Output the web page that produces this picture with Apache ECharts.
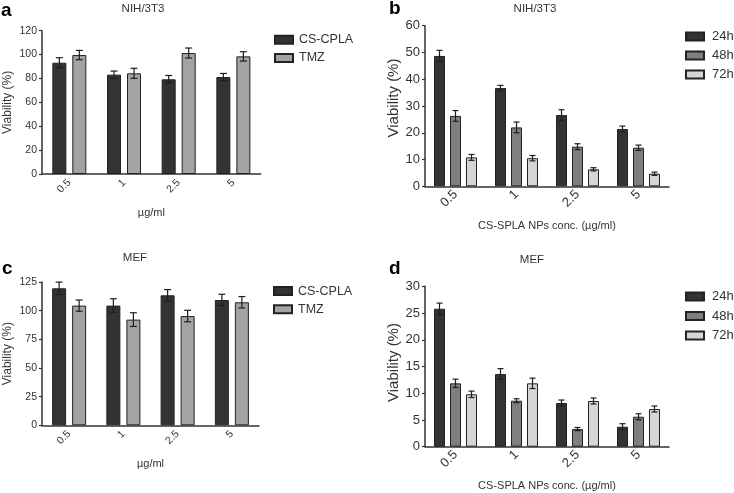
<!DOCTYPE html>
<html>
<head>
<meta charset="utf-8">
<script src="https://cdn.jsdelivr.net/npm/echarts@6/dist/echarts.min.js"></script>
<style>
html,body{margin:0;padding:0;background:#fff;}
#main{width:734px;height:493px;}
</style>
</head>
<body>
<div id="main"></div>
<script>
// ---- data ----
const categories = ['0.5', '1', '2.5', '5'];

const nihCS = [93.2, 83.2, 79.3, 81.2];
const nihCSErr = [4.2, 3.0, 3.2, 3.0];
const nihTMZ = [99.6, 84.3, 101.3, 98.5];
const nihTMZErr = [3.9, 4.2, 4.2, 3.9];

const mefCS = [119.5, 104.4, 113.4, 109.3];
const mefCSErr = [5.4, 6.0, 5.0, 5.0];
const mefTMZ = [104.4, 92.2, 95.3, 107.3];
const mefTMZErr = [4.9, 6.0, 5.0, 5.0];

const nih24 = [48.7, 36.7, 26.6, 21.4];
const nih24Err = [2.1, 1.0, 2.0, 1.1];
const nih48 = [26.3, 22.0, 14.8, 14.4];
const nih48Err = [2.0, 2.0, 1.1, 1.0];
const nih72 = [10.8, 10.5, 6.35, 4.7];
const nih72Err = [1.1, 1.0, 0.6, 0.6];

const mef24 = [25.8, 13.6, 8.17, 3.74];
const mef24Err = [1.06, 1.0, 0.56, 0.56];
const mef48 = [11.85, 8.6, 3.3, 5.6];
const mef48Err = [0.78, 0.37, 0.3, 0.56];
const mef72 = [9.8, 11.85, 8.55, 7.05];
const mef72Err = [0.6, 0.97, 0.56, 0.56];

const yTicksA = {min: 0, max: 120, interval: 20};
const yTicksB = {min: 0, max: 60, interval: 10};
const yTicksC = {min: 0, max: 125, interval: 25};
const yTicksD = {min: 0, max: 30, interval: 5};

// ---- styling ----
const FONT = "'Liberation Sans', Arial, sans-serif";
const TXT = '#333';
const colors = {
  'CS-CPLA': '#333333', 'TMZ': '#a3a3a3',
  '24h': '#333333', '48h': '#7f7f7f', '72h': '#d6d6d6'
};
const BORDER = '#222';

const chart = echarts.init(document.getElementById('main'));

const grids = [
  {left: 42, top: 30.7, width: 218.7, height: 143.3},
  {left: 425, top: 25.7, width: 244, height: 160.6},
  {left: 42, top: 282, width: 217, height: 143.3},
  {left: 425, top: 286.3, width: 244, height: 160.4}
].map(g => Object.assign({containLabel: false, outerBoundsMode: 'none'}, g));

function xAxis(idx, name, small) {
  return {
    type: 'category', gridIndex: idx, data: categories,
    boundaryGap: true,
    axisLine: {lineStyle: {color: '#333', width: 1.5}},
    axisTick: {alignWithLabel: true, length: 4, lineStyle: {color: '#333', width: 1.2}},
    axisLabel: {rotate: 45, color: TXT, fontFamily: FONT, fontSize: small ? 10.5 : 13, margin: small ? 7 : 6},
    name: name, nameLocation: 'middle', nameGap: small ? 33 : 34,
    nameTextStyle: {color: TXT, fontFamily: FONT, fontSize: 11}
  };
}
function yAxis(idx, ticks, small, padBottom) {
  return Object.assign({
    type: 'value', gridIndex: idx,
    splitLine: {show: false},
    axisLine: {show: true, lineStyle: {color: '#333', width: 1.5}},
    axisTick: {show: true, length: 3, lineStyle: {color: '#333', width: 1.2}},
    axisLabel: {color: TXT, fontFamily: FONT, fontSize: small ? 10.5 : 13, margin: 5},
    name: 'Viability (%)', nameLocation: 'middle', nameGap: small ? 28 : 22,
    nameTextStyle: {color: TXT, fontFamily: FONT, fontSize: small ? 12 : 15, padding: [0, 0, 0, padBottom || 0]}
  }, ticks);
}

function barSeries(name, data, idx, bw, gap) {
  return {
    type: 'bar', name: name, xAxisIndex: idx, yAxisIndex: idx, data: data,
    barWidth: bw, barGap: gap,
    itemStyle: {color: colors[name], borderColor: BORDER, borderWidth: 1},
    silent: true, z: 2
  };
}
function errSeries(values, errs, idx, bw, gapPx, n, k, cap) {
  const total = n * bw + (n - 1) * gapPx;
  const off = -total / 2 + k * (bw + gapPx) + bw / 2;
  return {
    type: 'custom', xAxisIndex: idx, yAxisIndex: idx, silent: true, z: 10,
    data: values.map((v, i) => [i, v, errs[i]]),
    encode: {x: 0, y: 1},
    renderItem: function (params, api) {
      const i = api.value(0), v = api.value(1), e = api.value(2);
      const top = api.coord([i, v + e]);
      const bot = api.coord([i, v - e]);
      const x = top[0] + off;
      const st = {stroke: '#1e1e1e', lineWidth: 1.2};
      return {
        type: 'group', children: [
          {type: 'line', shape: {x1: x, y1: top[1], x2: x, y2: bot[1]}, style: st},
          {type: 'line', shape: {x1: x - cap, y1: top[1], x2: x + cap, y2: top[1]}, style: st},
          {type: 'line', shape: {x1: x - cap, y1: bot[1], x2: x + cap, y2: bot[1]}, style: st}
        ]
      };
    }
  };
}

const BW2 = 14, GAP2 = 6, BW3 = 11, GAP3 = 5;
const g2 = (GAP2 / BW2 * 100).toFixed(2) + '%';
const g3 = (GAP3 / BW3 * 100).toFixed(2) + '%';

const series = [
  barSeries('CS-CPLA', nihCS, 0, BW2, g2), barSeries('TMZ', nihTMZ, 0, BW2, g2),
  errSeries(nihCS, nihCSErr, 0, BW2, GAP2, 2, 0, 3.5), errSeries(nihTMZ, nihTMZErr, 0, BW2, GAP2, 2, 1, 3.5),

  barSeries('24h', nih24, 1, BW3, g3), barSeries('48h', nih48, 1, BW3, g3), barSeries('72h', nih72, 1, BW3, g3),
  errSeries(nih24, nih24Err, 1, BW3, GAP3, 3, 0, 3), errSeries(nih48, nih48Err, 1, BW3, GAP3, 3, 1, 3),
  errSeries(nih72, nih72Err, 1, BW3, GAP3, 3, 2, 3),

  barSeries('CS-CPLA', mefCS, 2, BW2, g2), barSeries('TMZ', mefTMZ, 2, BW2, g2),
  errSeries(mefCS, mefCSErr, 2, BW2, GAP2, 2, 0, 3.5), errSeries(mefTMZ, mefTMZErr, 2, BW2, GAP2, 2, 1, 3.5),

  barSeries('24h', mef24, 3, BW3, g3), barSeries('48h', mef48, 3, BW3, g3), barSeries('72h', mef72, 3, BW3, g3),
  errSeries(mef24, mef24Err, 3, BW3, GAP3, 3, 0, 3), errSeries(mef48, mef48Err, 3, BW3, GAP3, 3, 1, 3),
  errSeries(mef72, mef72Err, 3, BW3, GAP3, 3, 2, 3)
];

function legend(names, left, top, fs, gap, pad) {
  return {
    data: names.map(n => ({name: n, icon: 'rect'})), orient: 'vertical', left: left, top: top,
    itemWidth: 18, itemHeight: 8, itemGap: gap, selectedMode: false, padding: 0,
    width: 100,
    textStyle: {color: TXT, fontFamily: FONT, fontSize: fs, lineHeight: fs + 1,
                padding: [0, 0, 0, pad], overflow: 'none', width: 80}
  };
}

function label(text, x, y, size, bold) {
  return {
    type: 'text', x: x, y: y, silent: true,
    style: {text: text, fill: bold ? '#000' : TXT, font: (bold ? 'bold ' : '') + size + 'px ' + FONT,
            align: bold ? 'left' : 'center', verticalAlign: 'middle'}
  };
}

chart.setOption({
  backgroundColor: '#fff',
  animation: false,
  grid: grids,
  xAxis: [xAxis(0, 'µg/ml', true), xAxis(1, 'CS-SPLA NPs conc. (µg/ml)', false),
          xAxis(2, 'µg/ml', true), xAxis(3, 'CS-SPLA NPs conc. (µg/ml)', false)],
  yAxis: [yAxis(0, yTicksA, true), yAxis(1, yTicksB, false, 16),
          yAxis(2, yTicksC, true), yAxis(3, yTicksD, false, 8)],
  legend: [
    legend(['CS-CPLA', 'TMZ'], 274, 33, 12.5, 4.7, 1),
    legend(['24h', '48h', '72h'], 685, 29.5, 13, 5, 3),
    legend(['CS-CPLA', 'TMZ'], 273, 284.3, 12.5, 4.7, 1),
    legend(['24h', '48h', '72h'], 685, 289.5, 13, 5.5, 3)
  ],
  graphic: [
    label('a', 1, 11, 19, true), label('b', 389, 9, 19, true),
    label('c', 2, 269, 19, true), label('d', 389, 268.5, 19, true),
    label('NIH/3T3', 143, 8.5, 11.5), label('NIH/3T3', 535, 8.5, 11.5),
    label('MEF', 135, 257.5, 11.5), label('MEF', 532, 260, 11.5)
  ],
  series: series
});
</script>
</body>
</html>
